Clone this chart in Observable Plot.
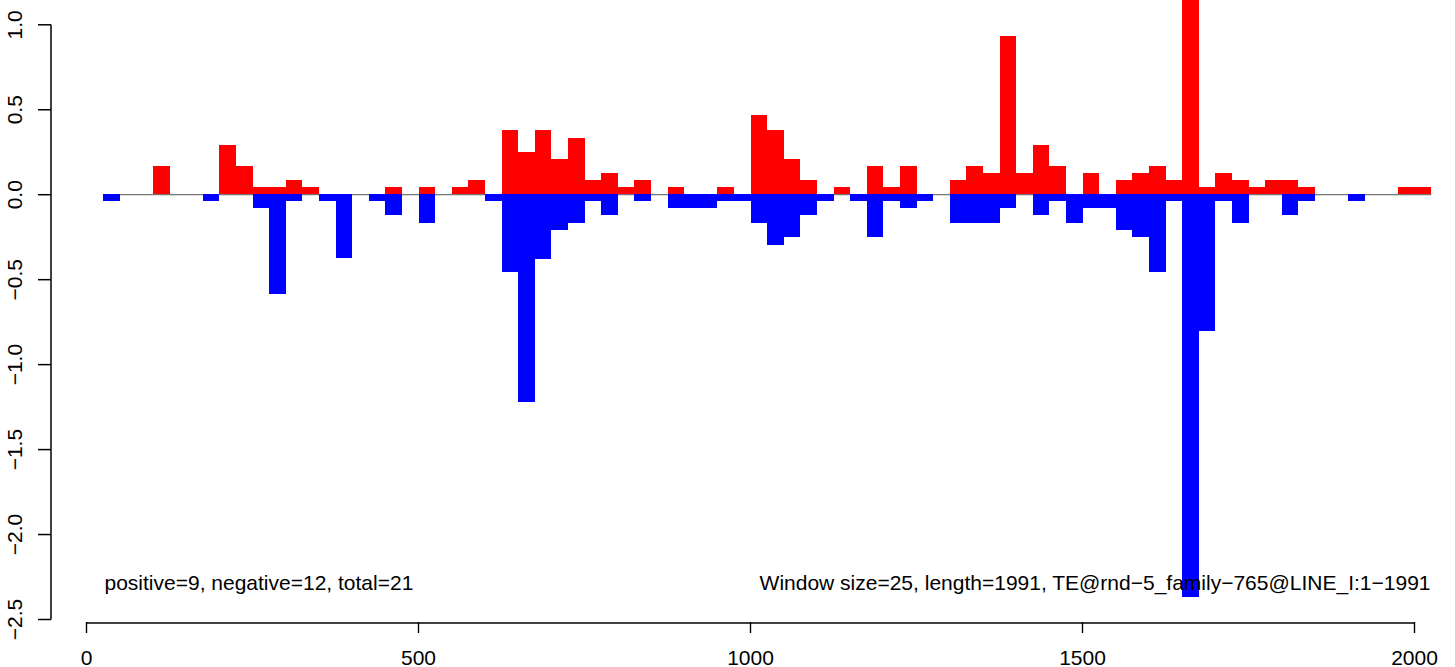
<!DOCTYPE html>
<html>
<head>
<meta charset="utf-8">
<script src="https://cdn.jsdelivr.net/npm/d3@7"></script>
<script src="https://cdn.jsdelivr.net/npm/@observablehq/plot@0.6"></script>
<style>
  html, body { margin: 0; padding: 0; background: #ffffff; }
  svg { display: block; }
</style>
</head>
<body>
<div id="chart"></div>
<script>
// ---- data ----
const windowSize = 25;
const windowStart = [1,26,51,76,101,126,151,176,201,226,251,276,301,326,351,376,401,426,451,476,
  501,526,551,576,601,626,651,676,701,726,751,776,801,826,851,876,901,926,951,976,
  1001,1026,1051,1076,1101,1126,1151,1176,1201,1226,1251,1276,1301,1326,1351,1376,1401,1426,1451,1476,
  1501,1526,1551,1576,1601,1626,1651,1676,1701,1726,1751,1776,1801,1826,1851,1876,1901,1926,1951,1976,2001];
const positive = [0,0,0,0,0.167,0,0,0,0.292,0.167,
  0.042,0.042,0.083,0.042,0,0,0,0,0.042,0,
  0.042,0,0.042,0.083,0,0.375,0.25,0.375,0.208,0.333,
  0.083,0.125,0.042,0.083,0,0.042,0,0,0.042,0,
  0.465,0.375,0.208,0.083,0,0.042,0,0.167,0.042,0.167,
  0,0,0.083,0.167,0.125,0.93,0.125,0.292,0.167,0,
  0.125,0,0.083,0.125,0.167,0.083,1.15,0.042,0.125,0.083,
  0.042,0.083,0.083,0.042,0,0,0,0,0,0.042,
  0.042];
const negative = [0,-0.042,0,0,0,0,0,-0.042,0,0,
  -0.083,-0.59,-0.042,0,-0.042,-0.375,0,-0.042,-0.125,0,
  -0.167,0,0,0,-0.042,-0.46,-1.225,-0.38,-0.21,-0.167,
  -0.042,-0.125,0,-0.042,0,-0.083,-0.083,-0.083,-0.042,-0.042,
  -0.167,-0.3,-0.25,-0.125,-0.042,0,-0.042,-0.25,-0.042,-0.083,
  -0.042,0,-0.167,-0.167,-0.167,-0.083,0,-0.125,-0.042,-0.167,
  -0.083,-0.083,-0.21,-0.25,-0.46,-0.042,-2.37,-0.806,-0.042,-0.167,
  0,0,-0.125,-0.042,0,0,-0.042,0,0,0,
  0];
const xTicks = [0, 500, 1000, 1500, 2000];
const yTicks = [-2.5, -2.0, -1.5, -1.0, -0.5, 0.0, 0.5, 1.0];
const leftLabel = "positive=9, negative=12, total=21";
const rightLabel = "Window size=25, length=1991, TE@rnd\u22125_family\u2212765@LINE_I:1\u22121991";

// ---- tables ----
const posData = windowStart.map((s, i) => ({x1: s, x2: s + windowSize, v: positive[i]})).filter(d => d.v !== 0);
const negData = windowStart.map((s, i) => ({x1: s, x2: s + windowSize, v: negative[i]})).filter(d => d.v !== 0);
const yTickData = yTicks.map(t => ({t}));
const yLineData = [{a: yTicks[0], b: yTicks[yTicks.length - 1]}];

const font = "'Liberation Sans', Arial, Helvetica, sans-serif";
const xRange = [86, 1414];
const pxPerUnit = (xRange[1] - xRange[0]) / (xTicks[xTicks.length - 1] - xTicks[0]);
const tickLenUnits = 13 / pxPerUnit; // 13px outward y ticks

const chart = Plot.plot({
  width: 1455,
  height: 667,
  marginLeft: 51,
  marginRight: 25,
  marginTop: 0,
  marginBottom: 45,
  style: {fontFamily: font, fontSize: "21px", background: "#ffffff", color: "#000000", overflow: "visible"},
  x: {domain: [xTicks[0], xTicks[xTicks.length - 1]], range: xRange, label: null},
  y: {domain: [yTicks[0], yTicks[yTicks.length - 1]], range: [619, 24.3], label: null},
  marks: [
    Plot.ruleY([0], {x1: windowStart[1], x2: windowStart[windowStart.length - 1] + windowSize, stroke: "#555555", strokeWidth: 1}),
    Plot.rect(negData, {x1: "x1", x2: "x2", y1: 0, y2: "v", fill: "#0000ff", shapeRendering: "crispEdges"}),
    Plot.rect(posData, {x1: "x1", x2: "x2", y1: 0, y2: "v", fill: "#ff0000", shapeRendering: "crispEdges"}),
    // x axis
    Plot.axisX({ticks: xTicks, tickSize: 11, tickPadding: 17, fontSize: 21, tickFormat: d => String(d), stroke: "#000", strokeWidth: 1.4}),
    Plot.ruleY([yTicks[0]], {x1: xTicks[0], x2: xTicks[xTicks.length - 1], dy: 3.5, stroke: "#000", strokeWidth: 1.4}),
    // y axis labels
    Plot.axisY({ticks: yTicks, tickSize: 0, tickPadding: 36, fontSize: 21, rotate: -90, textAnchor: "middle", tickFormat: d3.format(".1f")}),
    // y axis line and outward ticks (R style)
    Plot.link(yLineData, {x1: () => xTicks[0], x2: () => xTicks[0], y1: "a", y2: "b", dx: -35.5, stroke: "#000", strokeWidth: 1.5}),
    Plot.link(yTickData, {x1: () => xTicks[0] - tickLenUnits, x2: () => xTicks[0], y1: "t", y2: "t", dx: -35.5, stroke: "#000", strokeWidth: 1.5}),
    // annotations
    Plot.text([leftLabel], {text: d => d, frameAnchor: "bottom-left", dx: 53, dy: -33, textAnchor: "start", fontSize: 21, fill: "#000"}),
    Plot.text([rightLabel], {text: d => d, frameAnchor: "bottom-right", dx: 0, dy: -33, textAnchor: "end", fontSize: 21, fill: "#000"})
  ]
});
document.getElementById("chart").appendChild(chart);
</script>
</body>
</html>
